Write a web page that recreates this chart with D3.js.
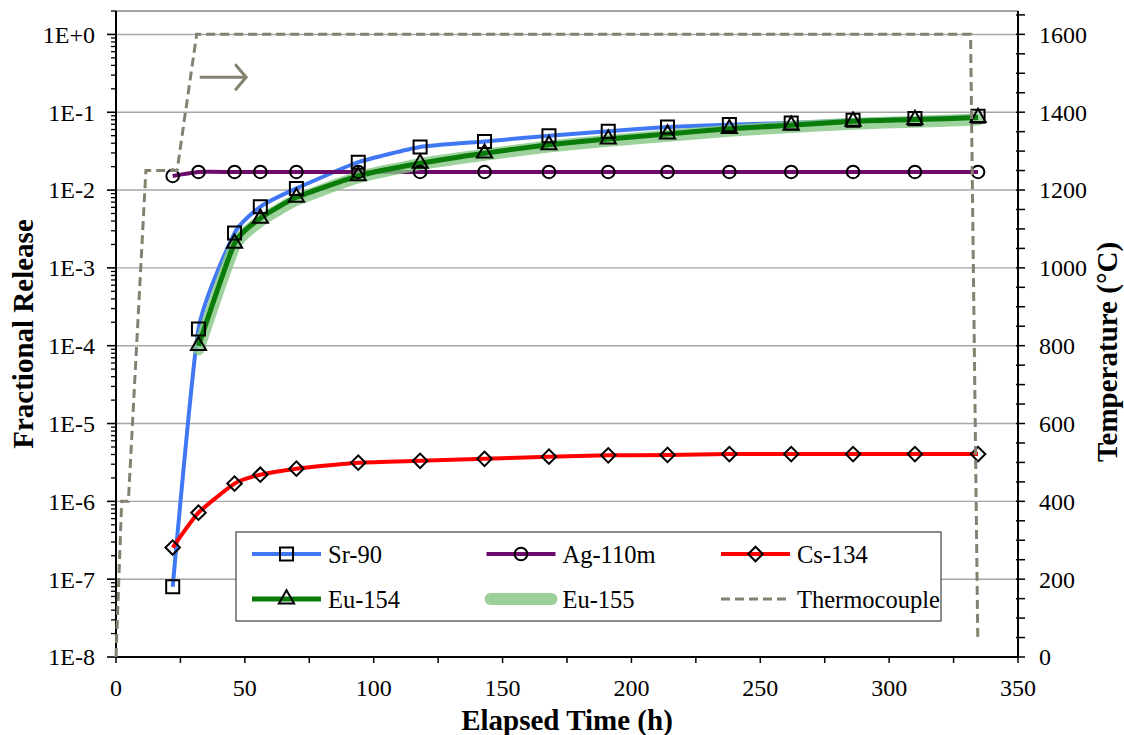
<!DOCTYPE html>
<html>
<head>
<meta charset="utf-8">
<script src="https://cdn.jsdelivr.net/npm/d3@7"></script>
<style>
  body { margin: 0; background: #fff; }
</style>
</head>
<body>
<div class="chart"></div>
<script>
// elapsed time of each measurement (h)
let times = [22, 32, 46, 56, 70, 94, 118, 143, 168, 191, 214, 238, 262, 286, 310, 334.5];
let sr90 = [8.0e-8, 1.64e-4, 2.8e-3, 6.1e-3, 1.05e-2, 2.28e-2, 3.58e-2, 4.22e-2, 4.99e-2, 5.68e-2, 6.46e-2, 6.93e-2, 7.28e-2, 7.88e-2, 8.28e-2, 8.88e-2];
let ag110m = [1.52e-2, 1.71e-2, 1.71e-2, 1.71e-2, 1.71e-2, 1.71e-2, 1.71e-2, 1.71e-2, 1.71e-2, 1.71e-2, 1.71e-2, 1.71e-2, 1.71e-2, 1.71e-2, 1.71e-2, 1.71e-2];
let cs134 = [2.55e-7, 7.16e-7, 1.69e-6, 2.2e-6, 2.63e-6, 3.14e-6, 3.32e-6, 3.52e-6, 3.75e-6, 3.9e-6, 3.95e-6, 4.05e-6, 4.05e-6, 4.05e-6, 4.05e-6, 4.05e-6];
let eu154 = [null, 1.0e-4, 2.07e-3, 4.34e-3, 8.07e-3, 1.52e-2, 2.21e-2, 2.98e-2, 3.82e-2, 4.52e-2, 5.25e-2, 6.15e-2, 6.79e-2, 7.65e-2, 8.04e-2, 8.53e-2];
let eu155 = [null, 9.0e-5, 1.9e-3, 4.0e-3, 7.5e-3, 1.46e-2, 2.16e-2, 2.84e-2, 3.63e-2, 4.3e-2, 4.99e-2, 5.8e-2, 6.46e-2, 7.13e-2, 7.57e-2, 8.04e-2];

// thermocouple trace (right axis)
let tcTime = [0, 2.2, 4.8, 11.6, 23.7, 31.3, 331.6, 334.4];
let tcTemp = [0, 400, 400, 1250, 1250, 1600, 1600, 45];

let xTicks = [0, 50, 100, 150, 200, 250, 300, 350];
let yTicks = [1e0, 1e-1, 1e-2, 1e-3, 1e-4, 1e-5, 1e-6, 1e-7, 1e-8];
let yTickLabels = ["1E+0", "1E-1", "1E-2", "1E-3", "1E-4", "1E-5", "1E-6", "1E-7", "1E-8"];
let tempTicks = [0, 200, 400, 600, 800, 1000, 1200, 1400, 1600];

let seriesNames = ["Sr-90", "Ag-110m", "Cs-134", "Eu-154", "Eu-155", "Thermocouple"];

let FONT = "'Liberation Serif', 'Times New Roman', serif";

let margin = { top: 11, left: 116, right: 106, bottom: 78 };
let fullW = 1124, fullH = 735;
let width = fullW - margin.left - margin.right;
let height = fullH - margin.top - margin.bottom;

let svg = d3.select(".chart")
  .append("svg")
  .attr("width", fullW)
  .attr("height", fullH);

let g = svg.append("g")
  .attr("transform", "translate(" + margin.left + "," + margin.top + ")");

let x = d3.scaleLinear().domain([0, 350]).range([0, width]);
let y = d3.scaleLog().domain([1e-8, 2]).range([height, 0]);
let yT = d3.scaleLinear().domain([0, 1660]).range([height, 0]);

function tickText(sel) {
  sel.style("font-family", FONT).style("font-size", "24px").attr("fill", "#000");
}
function titleText(sel) {
  sel.style("font-family", FONT).style("font-size", "29px").style("font-weight", "bold").attr("fill", "#000");
}

// gridlines at each decade
g.append("g")
  .selectAll("line")
  .data(yTicks.slice(0, 8))
  .enter()
  .append("line")
  .attr("x1", 0)
  .attr("x2", width)
  .attr("y1", function(d) { return y(d); })
  .attr("y2", function(d) { return y(d); })
  .attr("stroke", "#a6a6a6")
  .attr("stroke-width", 1.4);

// top border
g.append("line")
  .attr("x1", 0).attr("x2", width)
  .attr("y1", 0).attr("y2", 0)
  .attr("stroke", "#868686")
  .attr("stroke-width", 1.5);

// left axis: major + minor log ticks
let minorLog = [];
for (let e = -8; e < 1; e++) {
  for (let m = 2; m <= 9; m++) {
    let v = m * Math.pow(10, e);
    if (v <= 2) minorLog.push(v);
  }
}
let leftAxis = g.append("g");
leftAxis.append("line")
  .attr("x1", 0).attr("x2", 0).attr("y1", 0).attr("y2", height)
  .attr("stroke", "#000").attr("stroke-width", 2);
leftAxis.selectAll(".minor")
  .data(minorLog)
  .enter()
  .append("line")
  .attr("class", "minor")
  .attr("x1", -5).attr("x2", 0)
  .attr("y1", function(d) { return y(d); })
  .attr("y2", function(d) { return y(d); })
  .attr("stroke", "#000").attr("stroke-width", 1.3);
leftAxis.selectAll(".major")
  .data(yTicks)
  .enter()
  .append("line")
  .attr("class", "major")
  .attr("x1", -9).attr("x2", 0)
  .attr("y1", function(d) { return y(d); })
  .attr("y2", function(d) { return y(d); })
  .attr("stroke", "#000").attr("stroke-width", 1.6);
leftAxis.selectAll("text")
  .data(yTicks)
  .enter()
  .append("text")
  .call(tickText)
  .attr("x", -21)
  .attr("y", function(d) { return y(d); })
  .attr("dy", "0.35em")
  .attr("text-anchor", "end")
  .text(function(d, i) { return yTickLabels[i]; });

// bottom axis
let xMinor = d3.range(0, 351, 25);
let bottomAxis = g.append("g").attr("transform", "translate(0," + height + ")");
bottomAxis.append("line")
  .attr("x1", 0).attr("x2", width)
  .attr("stroke", "#000").attr("stroke-width", 2);
bottomAxis.selectAll(".tk")
  .data(xMinor)
  .enter()
  .append("line")
  .attr("class", "tk")
  .attr("x1", function(d) { return x(d); })
  .attr("x2", function(d) { return x(d); })
  .attr("y1", 0).attr("y2", 6)
  .attr("stroke", "#000").attr("stroke-width", 1.5);
bottomAxis.selectAll("text")
  .data(xTicks)
  .enter()
  .append("text")
  .call(tickText)
  .attr("x", function(d) { return x(d); })
  .attr("y", 39)
  .attr("text-anchor", "middle")
  .text(function(d) { return d; });

// right axis (temperature)
let rightAxis = g.append("g").attr("transform", "translate(" + width + ",0)");
rightAxis.append("line")
  .attr("x1", 0).attr("x2", 0).attr("y1", 0).attr("y2", height)
  .attr("stroke", "#000").attr("stroke-width", 2);
rightAxis.selectAll(".tk")
  .data(d3.range(0, 1651, 50))
  .enter()
  .append("line")
  .attr("class", "tk")
  .attr("x1", -2).attr("x2", 7)
  .attr("y1", function(d) { return yT(d); })
  .attr("y2", function(d) { return yT(d); })
  .attr("stroke", "#000").attr("stroke-width", 1.5);
rightAxis.selectAll("text")
  .data(tempTicks)
  .enter()
  .append("text")
  .call(tickText)
  .attr("x", 21)
  .attr("y", function(d) { return yT(d); })
  .attr("dy", "0.35em")
  .attr("text-anchor", "start")
  .text(function(d) { return d; });

// axis titles
svg.append("text")
  .call(titleText)
  .attr("transform", "translate(33," + (margin.top + height / 2) + ") rotate(-90)")
  .attr("text-anchor", "middle")
  .text("Fractional Release");
svg.append("text")
  .call(titleText)
  .attr("transform", "translate(1117," + (margin.top + height / 2 + 18) + ") rotate(-90)")
  .attr("text-anchor", "middle")
  .text("Temperature (°C)");
svg.append("text")
  .call(titleText)
  .attr("x", margin.left + width / 2)
  .attr("y", 730)
  .attr("text-anchor", "middle")
  .text("Elapsed Time (h)");

// series lines (smoothed, like the spreadsheet's smoothed lines)
let curve = d3.curveCardinal.tension(0.5);
function pts(vals) {
  return times.map(function(t, i) { return [t, vals[i]]; })
    .filter(function(p) { return p[1] != null; });
}
let line = d3.line()
  .x(function(d) { return x(d[0]); })
  .y(function(d) { return y(d[1]); })
  .curve(curve);

let plot = g.append("g");
plot.append("path").attr("d", line(pts(sr90)))
  .attr("fill", "none").attr("stroke", "#3f77f4").attr("stroke-width", 4);
plot.append("path").attr("d", line(pts(ag110m)))
  .attr("fill", "none").attr("stroke", "#6c0a6c").attr("stroke-width", 4);
plot.append("path").attr("d", line(pts(cs134)))
  .attr("fill", "none").attr("stroke", "#ff0000").attr("stroke-width", 4);
plot.append("path").attr("d", line(pts(eu155)))
  .attr("fill", "none").attr("stroke", "#86c784").attr("stroke-opacity", 0.8)
  .attr("stroke-width", 12).attr("stroke-linecap", "round");
plot.append("path").attr("d", line(pts(eu154)))
  .attr("fill", "none").attr("stroke", "#0a7c0a").attr("stroke-width", 5);

// markers
let sq = d3.symbol().type(d3.symbolSquare).size(170);
let ci = d3.symbol().type(d3.symbolCircle).size(125);
let di = d3.symbol().type(d3.symbolSquare).size(105);
let tr = d3.symbol().type(d3.symbolTriangle).size(100);

function markers(vals, sym, rot) {
  plot.append("g")
    .selectAll("path")
    .data(pts(vals))
    .enter()
    .append("path")
    .attr("d", sym)
    .attr("transform", function(d) { return "translate(" + x(d[0]) + "," + y(d[1]) + ") rotate(" + (rot || 0) + ")"; })
    .attr("fill", "none")
    .attr("stroke", "#000")
    .attr("stroke-width", 2);
}
markers(ag110m, ci);
markers(cs134, di, 45);
markers(sr90, sq);
markers(eu154, tr);

// thermocouple on the secondary axis
let tcLine = d3.line()
  .x(function(d) { return x(d[0]); })
  .y(function(d) { return yT(d[1]); });
plot.append("path")
  .attr("d", tcLine(tcTime.map(function(t, i) { return [t, tcTemp[i]]; })))
  .attr("fill", "none")
  .attr("stroke", "#848170")
  .attr("stroke-width", 3)
  .attr("stroke-dasharray", "9,5");

// arrow pointing to the right axis
let ax0 = x(32.5), ax1 = x(50.5), ay = yT(1490);
plot.append("path")
  .attr("d", "M" + ax0 + "," + ay + "H" + ax1 + "M" + (ax1 - 11) + "," + (ay - 13) + "L" + ax1 + "," + ay + "L" + (ax1 - 11) + "," + (ay + 13))
  .attr("fill", "none")
  .attr("stroke", "#858170")
  .attr("stroke-width", 3);

// legend
let legend = svg.append("g");
legend.append("rect")
  .attr("x", 236).attr("y", 532)
  .attr("width", 705).attr("height", 89)
  .attr("fill", "#fff")
  .attr("stroke", "#404040")
  .attr("stroke-width", 1.2);

let legendStyle = [
  { color: "#3f77f4", w: 4, sym: sq },
  { color: "#6c0a6c", w: 4, sym: ci },
  { color: "#ff0000", w: 4, sym: di, rot: 45 },
  { color: "#0a7c0a", w: 5, sym: tr },
  { color: "#9dcf9b", w: 12, sym: null },
  { color: "#848170", w: 3, sym: null, dash: "9,5" }
];
seriesNames.forEach(function(name, i) {
  let col = i % 3, row = Math.floor(i / 3);
  let lx = 252 + col * 234.5;
  let ly = 554 + row * 45;
  let st = legendStyle[i];
  legend.append("line")
    .attr("x1", lx + (st.w > 10 ? 4 : 0)).attr("x2", lx + 69 - (st.w > 10 ? 4 : 0))
    .attr("y1", ly).attr("y2", ly)
    .attr("stroke", st.color)
    .attr("stroke-width", st.w)
    .attr("stroke-linecap", st.w > 10 ? "round" : "butt")
    .attr("stroke-dasharray", st.dash || null);
  if (st.sym) {
    legend.append("path")
      .attr("d", st.sym)
      .attr("transform", "translate(" + (lx + 34.5) + "," + ly + ") rotate(" + (st.rot || 0) + ")")
      .attr("fill", "none")
      .attr("stroke", "#000")
      .attr("stroke-width", 2);
  }
  legend.append("text")
    .call(tickText)
    .style("font-size", "24.5px")
    .attr("x", lx + 76)
    .attr("y", ly)
    .attr("dy", "0.35em")
    .text(name);
});
</script>
</body>
</html>
